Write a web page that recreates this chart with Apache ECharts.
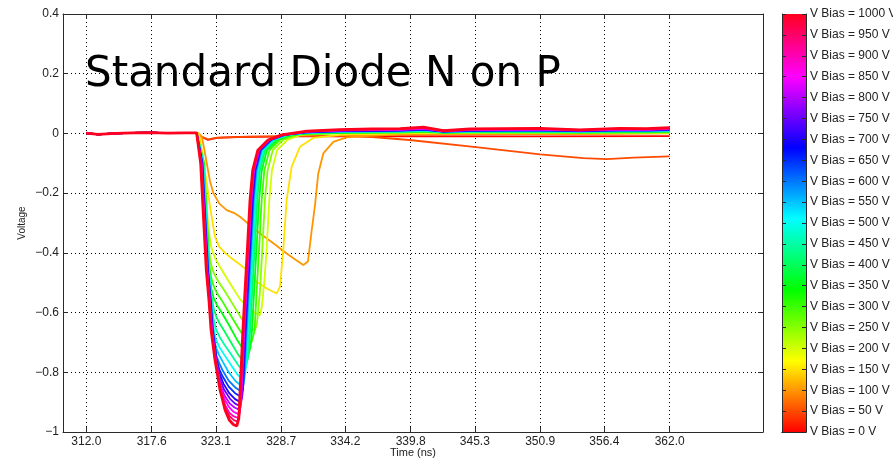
<!DOCTYPE html>
<html>
<head>
<meta charset="utf-8">
<title>Standard Diode N on P</title>
<script src="https://cdn.jsdelivr.net/npm/echarts@6/dist/echarts.min.js"></script>
<style>
  html, body { margin: 0; padding: 0; background: #fff; }
  #chart { width: 893px; height: 459px; }
</style>
</head>
<body>
<div id="chart"></div>
<script>
  // bias voltages (one curve each), tick labels
  var biasVolts = [0, 50, 100, 150, 200, 250, 300, 350, 400, 450, 500, 550, 600, 650, 700, 750, 800, 850, 900, 950, 1000];
  var timeTicks = [312.0, 317.6, 323.1, 328.7, 334.2, 339.8, 345.3, 350.9, 356.4, 362.0];

  // baseline before the trigger, same for every curve
  var preTrigger = [[312, 0.001], [313, -0.003], [314.5, 0.0], [316, 0.002], [317.5, 0.003], [319, 0.001], [320.5, 0.002], [321.45, 0.002]];

  // [time ns, voltage]
  var v0 = [[321.8, -0.01], [322.43, -0.022], [323.2, -0.015], [325, -0.012], [330, -0.010], [340, -0.009], [350, -0.010], [362, -0.009]];
  var v50 = [[321.8, -0.01], [322.43, -0.02], [323.2, -0.014], [326, -0.011], [330, -0.009], [334, -0.008], [336.5, -0.012], [339.7, -0.022],
    [345.2, -0.045], [350.9, -0.07], [354.6, -0.083], [356.6, -0.086], [358.9, -0.081], [362, -0.077]];
  var v100 = [[321.65, 0], [321.89, -0.01], [322.1, -0.05], [322.32, -0.10], [322.6, -0.16], [322.89, -0.20], [323.4, -0.235], [324.03, -0.257],
    [324.74, -0.268], [325.17, -0.279], [326.03, -0.307], [326.89, -0.335], [328.03, -0.368], [329.17, -0.402], [330.0, -0.425], [330.6, -0.441],
    [331.0, -0.428], [331.3, -0.33], [331.6, -0.24], [331.88, -0.134], [332.31, -0.067], [333.17, -0.028], [334.3, -0.013],
    [336.5, -0.007], [338.9, -0.004], [342.6, -0.003], [347.5, -0.002], [350.9, -0.002], [354.3, -0.002], [357.7, -0.001], [362, 0.0]];
  var v150 = [[321.65, 0], [321.85, -0.04], [322.05, -0.10], [322.32, -0.165], [322.6, -0.245], [323.03, -0.346], [323.4, -0.38], [323.89, -0.40],
    [324.5, -0.42], [325.03, -0.435], [325.74, -0.457], [326.6, -0.497], [327.5, -0.52], [328.32, -0.536], [328.6, -0.513], [328.88, -0.39],
    [329.17, -0.223], [329.6, -0.111], [330.31, -0.045], [331.45, -0.015], [333.74, -0.005],
    [336.5, -0.002], [338.9, 0.0], [340.9, 0.002], [342.6, 0.0], [344.9, 0.001], [347.5, 0.001], [350.9, 0.001], [354.3, 0.0], [357.7, 0.001], [360, 0.001], [362, 0.002]];
  var v200 = [[321.62, 0], [322.12, -0.10], [322.32, -0.25], [322.5, -0.33], [322.7, -0.38], [323.0, -0.415], [323.5, -0.45], [324.2, -0.495],
    [325.17, -0.555], [326.0, -0.59], [326.85, -0.61], [327.03, -0.585], [327.25, -0.50], [327.45, -0.39], [327.68, -0.223], [327.91, -0.123],
    [328.35, -0.056], [329.22, -0.022], [330.4, -0.005],
    [330.9, -0.004], [333.7, 0.000], [336.5, 0.001], [338.9, 0.002], [340.9, 0.003], [342.6, 0.001], [344.9, 0.002], [347.5, 0.002], [350.9, 0.002], [354.3, 0.001], [357.7, 0.002], [360, 0.002], [362, 0.003]];
  var v250 = [[321.62, 0], [322.1, -0.10], [322.3, -0.25], [322.5, -0.39], [322.7, -0.44], [322.95, -0.47], [323.3, -0.495], [323.9, -0.53],
    [324.6, -0.575], [325.3, -0.62], [325.9, -0.648], [326.45, -0.66], [326.63, -0.635], [326.88, -0.53], [327.08, -0.39], [327.31, -0.223],
    [327.54, -0.123], [327.98, -0.056], [328.85, -0.022], [330.03, -0.005],
    [330.9, -0.002], [333.7, 0.001], [336.5, 0.002], [338.9, 0.003], [340.9, 0.005], [342.6, 0.002], [344.9, 0.003], [347.5, 0.003], [350.9, 0.003], [354.3, 0.002], [357.7, 0.003], [360, 0.003], [362, 0.004]];
  var v300 = [[321.62, 0], [322.08, -0.10], [322.28, -0.25], [322.5, -0.42], [322.68, -0.48], [322.9, -0.51], [323.2, -0.535], [323.7, -0.565],
    [324.3, -0.605], [325.0, -0.65], [325.6, -0.685], [326.15, -0.70], [326.33, -0.675], [326.42, -0.66], [326.6, -0.53], [326.8, -0.39],
    [327.03, -0.223], [327.26, -0.123], [327.7, -0.056], [328.57, -0.022], [329.75, -0.005],
    [330.9, -0.001], [333.7, 0.002], [336.5, 0.003], [338.9, 0.004], [340.9, 0.006], [342.6, 0.003], [344.9, 0.004], [347.5, 0.004], [350.9, 0.004], [354.3, 0.003], [357.7, 0.004], [360, 0.004], [362, 0.005]];
  var v350 = [[321.62, 0], [322.06, -0.10], [322.26, -0.25], [322.54, -0.457], [322.72, -0.52], [322.9, -0.55], [323.2, -0.575], [323.6, -0.60],
    [324.2, -0.64], [324.9, -0.69], [325.4, -0.72], [325.9, -0.74], [326.08, -0.715], [326.2, -0.66], [326.38, -0.53], [326.58, -0.39],
    [326.81, -0.223], [327.04, -0.123], [327.48, -0.056], [328.35, -0.022], [329.53, -0.005],
    [330.9, 0.000], [333.7, 0.003], [336.5, 0.004], [338.9, 0.005], [340.9, 0.007], [342.6, 0.003], [344.9, 0.005], [347.5, 0.005], [350.9, 0.005], [354.3, 0.004], [357.7, 0.005], [360, 0.005], [362, 0.006]];
  var v400 = [[321.62, 0], [322.04, -0.10], [322.24, -0.25], [322.52, -0.457], [322.72, -0.54], [322.9, -0.585], [323.1, -0.61], [323.4, -0.635],
    [323.8, -0.66], [324.4, -0.70], [325.0, -0.74], [325.7, -0.775], [325.88, -0.75], [326.04, -0.66], [326.22, -0.53], [326.42, -0.39],
    [326.65, -0.223], [326.88, -0.123], [327.32, -0.056], [328.19, -0.022], [329.37, -0.005],
    [330.9, 0.001], [333.7, 0.004], [336.5, 0.005], [338.9, 0.006], [340.9, 0.008], [342.6, 0.004], [344.9, 0.005], [347.5, 0.006], [350.9, 0.006], [354.3, 0.005], [357.7, 0.006], [360, 0.006], [362, 0.007]];
  var v450 = [[321.62, 0], [322.02, -0.10], [322.22, -0.25], [322.5, -0.457], [322.73, -0.558], [322.9, -0.62], [323.1, -0.655], [323.4, -0.68],
    [323.8, -0.705], [324.4, -0.74], [325.0, -0.775], [325.55, -0.80], [325.73, -0.775], [325.92, -0.66], [326.1, -0.53], [326.3, -0.39],
    [326.53, -0.223], [326.76, -0.123], [327.2, -0.056], [328.07, -0.022], [329.25, -0.005],
    [330.9, 0.002], [333.7, 0.005], [336.5, 0.006], [338.9, 0.006], [340.9, 0.009], [342.6, 0.004], [344.9, 0.006], [347.5, 0.007], [350.9, 0.007], [354.3, 0.005], [357.7, 0.007], [360, 0.007], [362, 0.008]];
  var v500 = [[321.62, 0], [322.0, -0.10], [322.2, -0.25], [322.48, -0.457], [322.71, -0.558], [322.9, -0.65], [323.1, -0.69], [323.4, -0.715],
    [323.8, -0.74], [324.3, -0.77], [324.9, -0.805], [325.45, -0.826], [325.63, -0.80], [325.83, -0.66], [326.01, -0.53], [326.21, -0.39],
    [326.44, -0.223], [326.67, -0.123], [327.11, -0.056], [327.98, -0.022], [329.16, -0.005],
    [330.9, 0.003], [333.7, 0.006], [336.5, 0.007], [338.9, 0.007], [340.9, 0.010], [342.6, 0.005], [344.9, 0.007], [347.5, 0.007], [350.9, 0.008], [354.3, 0.006], [357.7, 0.008], [360, 0.008], [362, 0.009]];
  var v550 = [[321.62, 0], [321.98, -0.10], [322.18, -0.25], [322.46, -0.457], [322.69, -0.558], [322.87, -0.658], [323.1, -0.715], [323.35, -0.74],
    [323.7, -0.765], [324.2, -0.80], [324.8, -0.83], [325.37, -0.848], [325.55, -0.823], [325.76, -0.66], [325.94, -0.53], [326.14, -0.39],
    [326.37, -0.223], [326.6, -0.123], [327.04, -0.056], [327.91, -0.022], [329.09, -0.005],
    [330.9, 0.003], [333.7, 0.006], [336.5, 0.007], [338.9, 0.008], [340.9, 0.011], [342.6, 0.005], [344.9, 0.008], [347.5, 0.008], [350.9, 0.009], [354.3, 0.007], [357.7, 0.009], [360, 0.008], [362, 0.010]];
  var v600 = [[321.62, 0], [321.96, -0.10], [322.16, -0.25], [322.44, -0.457], [322.67, -0.558], [322.85, -0.658], [323.15, -0.745], [323.4, -0.77],
    [323.7, -0.795], [324.2, -0.828], [324.8, -0.852], [325.3, -0.865], [325.48, -0.84], [325.7, -0.66], [325.88, -0.53], [326.08, -0.39],
    [326.31, -0.223], [326.54, -0.123], [326.98, -0.056], [327.85, -0.022], [329.03, -0.005],
    [330.9, 0.004], [333.7, 0.007], [336.5, 0.008], [338.9, 0.009], [340.9, 0.012], [342.6, 0.006], [344.9, 0.008], [347.5, 0.009], [350.9, 0.010], [354.3, 0.007], [357.7, 0.010], [360, 0.009], [362, 0.011]];
  var v650 = [[321.62, 0], [321.94, -0.10], [322.14, -0.25], [322.42, -0.457], [322.65, -0.558], [322.83, -0.658], [323.17, -0.759], [323.4, -0.79],
    [323.7, -0.815], [324.2, -0.848], [324.75, -0.87], [325.25, -0.882], [325.43, -0.857], [325.65, -0.66], [325.83, -0.53], [326.03, -0.39],
    [326.26, -0.223], [326.49, -0.123], [326.93, -0.056], [327.8, -0.022], [328.98, -0.005],
    [330.9, 0.004], [333.7, 0.008], [336.5, 0.009], [338.9, 0.010], [340.9, 0.013], [342.6, 0.006], [344.9, 0.009], [347.5, 0.010], [350.9, 0.010], [354.3, 0.008], [357.7, 0.010], [360, 0.010], [362, 0.012]];
  var v700 = [[321.62, 0], [321.92, -0.10], [322.12, -0.25], [322.4, -0.457], [322.63, -0.558], [322.81, -0.658], [323.15, -0.759], [323.42, -0.805],
    [323.75, -0.838], [324.25, -0.87], [324.75, -0.89], [325.2, -0.90], [325.38, -0.875], [325.61, -0.66], [325.79, -0.53], [325.99, -0.39],
    [326.22, -0.223], [326.45, -0.123], [326.89, -0.056], [327.76, -0.022], [328.94, -0.005],
    [330.9, 0.005], [333.7, 0.008], [336.5, 0.009], [338.9, 0.010], [340.9, 0.014], [342.6, 0.007], [344.9, 0.010], [347.5, 0.010], [350.9, 0.011], [354.3, 0.009], [357.7, 0.011], [360, 0.011], [362, 0.013]];
  var v750 = [[321.62, 0], [321.9, -0.10], [322.1, -0.25], [322.38, -0.457], [322.61, -0.558], [322.79, -0.658], [323.13, -0.759], [323.48, -0.825],
    [323.8, -0.858], [324.3, -0.888], [324.75, -0.905], [325.15, -0.913], [325.33, -0.888], [325.57, -0.66], [325.75, -0.53], [325.95, -0.39],
    [326.18, -0.223], [326.41, -0.123], [326.85, -0.056], [327.72, -0.022], [328.9, -0.005],
    [330.9, 0.005], [333.7, 0.009], [336.5, 0.010], [338.9, 0.011], [340.9, 0.015], [342.6, 0.007], [344.9, 0.011], [347.5, 0.011], [350.9, 0.012], [354.3, 0.009], [357.7, 0.012], [360, 0.011], [362, 0.014]];
  var v800 = [[321.62, 0], [321.88, -0.10], [322.08, -0.25], [322.36, -0.457], [322.59, -0.558], [322.77, -0.658], [323.11, -0.759], [323.52, -0.845],
    [323.85, -0.878], [324.3, -0.905], [324.7, -0.918], [325.1, -0.925], [325.28, -0.90], [325.54, -0.66], [325.72, -0.53], [325.92, -0.39],
    [326.15, -0.223], [326.38, -0.123], [326.82, -0.056], [327.69, -0.022], [328.87, -0.005],
    [330.9, 0.006], [333.7, 0.010], [336.5, 0.011], [338.9, 0.012], [340.9, 0.016], [342.6, 0.008], [344.9, 0.011], [347.5, 0.012], [350.9, 0.013], [354.3, 0.010], [357.7, 0.013], [360, 0.012], [362, 0.015]];
  var v850 = [[321.62, 0], [321.86, -0.10], [322.06, -0.25], [322.34, -0.457], [322.57, -0.558], [322.75, -0.658], [323.09, -0.759], [323.52, -0.852],
    [323.85, -0.89], [324.2, -0.915], [324.6, -0.932], [325.05, -0.94], [325.23, -0.915], [325.51, -0.66], [325.69, -0.53], [325.89, -0.39],
    [326.12, -0.223], [326.35, -0.123], [326.79, -0.056], [327.66, -0.022], [328.84, -0.005],
    [330.9, 0.006], [333.7, 0.010], [336.5, 0.012], [338.9, 0.013], [340.9, 0.017], [342.6, 0.008], [344.9, 0.012], [347.5, 0.013], [350.9, 0.014], [354.3, 0.010], [357.7, 0.014], [360, 0.013], [362, 0.016]];
  var v900 = [[321.62, 0], [321.84, -0.10], [322.04, -0.25], [322.32, -0.457], [322.55, -0.558], [322.73, -0.658], [323.07, -0.759], [323.5, -0.855],
    [323.9, -0.91], [324.25, -0.935], [324.6, -0.947], [325.0, -0.953], [325.18, -0.928], [325.48, -0.66], [325.66, -0.53], [325.86, -0.39],
    [326.09, -0.223], [326.32, -0.123], [326.76, -0.056], [327.63, -0.022], [328.81, -0.005],
    [330.9, 0.007], [333.7, 0.011], [336.5, 0.013], [338.9, 0.014], [340.9, 0.018], [342.6, 0.009], [344.9, 0.013], [347.5, 0.014], [350.9, 0.015], [354.3, 0.011], [357.7, 0.015], [360, 0.014], [362, 0.017]];
  var v950 = [[321.62, 0], [321.82, -0.10], [322.02, -0.25], [322.3, -0.457], [322.53, -0.558], [322.71, -0.658], [323.05, -0.759], [323.48, -0.859],
    [323.91, -0.922], [324.3, -0.948], [324.65, -0.96], [324.95, -0.965], [325.13, -0.94], [325.45, -0.66], [325.63, -0.53], [325.83, -0.39],
    [326.06, -0.223], [326.29, -0.123], [326.73, -0.056], [327.6, -0.022], [328.78, -0.005],
    [330.9, 0.007], [333.7, 0.012], [336.5, 0.014], [338.9, 0.015], [340.9, 0.019], [342.6, 0.009], [344.9, 0.014], [347.5, 0.015], [350.9, 0.016], [354.3, 0.012], [357.7, 0.016], [360, 0.015], [362, 0.018]];
  var v1000 = [[321.62, 0], [321.8, -0.10], [322.0, -0.25], [322.28, -0.457], [322.51, -0.558], [322.69, -0.658], [323.03, -0.759], [323.46, -0.859],
    [323.89, -0.926], [324.25, -0.96], [324.6, -0.975], [324.89, -0.98], [325.07, -0.955], [325.42, -0.66], [325.6, -0.53], [325.8, -0.39],
    [326.03, -0.223], [326.26, -0.123], [326.7, -0.056], [327.57, -0.022], [328.75, -0.005],
    [330.9, 0.008], [333.7, 0.013], [336.5, 0.015], [338.9, 0.016], [340.9, 0.021], [342.6, 0.009], [344.9, 0.015], [347.5, 0.016], [350.9, 0.017], [354.3, 0.012], [357.7, 0.017], [360, 0.016], [362, 0.019]];

  var curves = [v0, v50, v100, v150, v200, v250, v300, v350, v400, v450, v500,
    v550, v600, v650, v700, v750, v800, v850, v900, v950, v1000];

  /*hsv colour for a bias, like the matlab colormap*/
  function biasColor(volts) {
    var h = (volts * 0.353) % 360;
    var x = 1 - Math.abs((h / 60) % 2 - 1);
    var r = 0, g = 0, b = 0;
    if (h < 60) { r = 1; g = x; }
    else if (h < 120) { r = x; g = 1; }
    else if (h < 180) { g = 1; b = x; }
    else if (h < 240) { g = x; b = 1; }
    else if (h < 300) { r = x; b = 1; }
    else { r = 1; b = x; }
    return 'rgb(' + Math.round(r * 255) + ',' + Math.round(g * 255) + ',' + Math.round(b * 255) + ')';
  }

  var axisColor = '#2a2a2a';
  var labelFont = 'Liberation Sans, Arial, sans-serif';

  var series = curves.map(function (pts, i) {
    var volts = biasVolts[i];
    return {
      name: 'V Bias = ' + volts + ' V',
      type: 'line',
      xAxisIndex: 0,
      yAxisIndex: 0,
      symbol: 'none',
      data: preTrigger.concat(pts),
      lineStyle: {color: biasColor(volts), width: volts === 1000 ? 2.8 : 1.8},
      itemStyle: {color: biasColor(volts)},
      animation: false
    };
  });

  // colour bar drawn as one bar through the bias axis
  var barStops = [0, 170, 340, 510, 680, 850, 1000].map(function (v) {
    return {offset: v / 1000, color: biasColor(v)};
  });
  series.push({
    type: 'bar',
    xAxisIndex: 2,
    yAxisIndex: 2,
    barWidth: '100%',
    data: [biasVolts[biasVolts.length - 1]],
    itemStyle: {color: {type: 'linear', x: 0, y: 1, x2: 0, y2: 0, colorStops: barStops}},
    animation: false,
    silent: true
  });

  var gridLine = {show: true, lineStyle: {color: '#000', width: 1, type: [1, 3]}};

  var myChart = echarts.init(document.getElementById('chart'));
  myChart.setOption({
    backgroundColor: '#fff',
    animation: false,
    title: {
      text: 'Standard Diode N on P',
      left: 85,
      top: 54,
      padding: 0,
      textStyle: {fontFamily: 'DejaVu Sans', fontSize: 42, fontWeight: 'normal', color: '#000'}
    },
    grid: [
      {left: 63, top: 14, width: 700, height: 418, outerBoundsMode: 'none', containLabel: false},
      {left: 782, top: 14, width: 24, height: 418, outerBoundsMode: 'none', containLabel: false}
    ],
    xAxis: [
      {
        gridIndex: 0, type: 'value', min: 310, max: 370, position: 'bottom',
        name: 'Time (ns)', nameLocation: 'middle', nameGap: 15, nameMoveOverlap: false,
        nameTextStyle: {fontFamily: labelFont, fontSize: 11, color: '#222'},
        axisLine: {show: true, onZero: false, lineStyle: {color: axisColor, width: 1}},
        axisTick: {show: true, inside: true, length: 5, customValues: timeTicks, lineStyle: {color: axisColor}},
        axisLabel: {
          customValues: timeTicks, margin: 4, fontFamily: labelFont, fontSize: 12, color: '#222',
          formatter: function (v) { return v.toFixed(1); }
        },
        splitLine: gridLine
      },
      {
        gridIndex: 0, type: 'value', min: 310, max: 370, position: 'top',
        axisLine: {show: true, onZero: false, lineStyle: {color: axisColor, width: 1}},
        axisTick: {show: true, inside: true, length: 5, customValues: timeTicks, lineStyle: {color: axisColor}},
        axisLabel: {show: false},
        splitLine: {show: false}
      },
      {
        gridIndex: 1, type: 'category', data: [''], position: 'bottom',
        axisLine: {show: true, lineStyle: {color: axisColor, width: 1}},
        axisTick: {show: false}, axisLabel: {show: false}, z: 5
      },
      {
        gridIndex: 1, type: 'category', data: [''], position: 'top',
        axisLine: {show: true, lineStyle: {color: axisColor, width: 1}},
        axisTick: {show: false}, axisLabel: {show: false}, z: 5
      }
    ],
    yAxis: [
      {
        gridIndex: 0, type: 'value', min: -1, max: 0.4, interval: 0.2, position: 'left',
        name: 'Voltage', nameLocation: 'middle', nameGap: 36, nameMoveOverlap: false,
        nameTextStyle: {fontFamily: labelFont, fontSize: 10, color: '#222'},
        axisLine: {show: true, onZero: false, lineStyle: {color: axisColor, width: 1}},
        axisTick: {show: true, inside: true, length: 5, lineStyle: {color: axisColor}},
        axisLabel: {
          margin: 4, fontFamily: labelFont, fontSize: 12, color: '#222',
          formatter: function (v) {
            var r = Math.round(v * 10) / 10;
            return (r < 0 ? '\u2212' : '') + Math.abs(r);
          }
        },
        splitLine: gridLine
      },
      {
        gridIndex: 0, type: 'value', min: -1, max: 0.4, interval: 0.2, position: 'right',
        axisLine: {show: true, onZero: false, lineStyle: {color: axisColor, width: 1}},
        axisTick: {show: true, inside: true, length: 5, lineStyle: {color: axisColor}},
        axisLabel: {show: false},
        splitLine: {show: false}
      },
      {
        gridIndex: 1, type: 'value', min: 0, max: 1000, interval: 50, position: 'right', z: 5,
        axisLine: {show: true, lineStyle: {color: axisColor, width: 1}},
        axisTick: {show: true, inside: true, length: 4, lineStyle: {color: axisColor}},
        axisLabel: {
          margin: 4, fontFamily: labelFont, fontSize: 12, color: '#222',
          formatter: function (v) { return 'V Bias = ' + Math.round(v) + ' V'; }
        },
        splitLine: {show: false}
      },
      {
        gridIndex: 1, type: 'value', min: 0, max: 1000, interval: 50, position: 'left', z: 5,
        axisLine: {show: true, lineStyle: {color: axisColor, width: 1}},
        axisTick: {show: true, inside: true, length: 4, lineStyle: {color: axisColor}},
        axisLabel: {show: false},
        splitLine: {show: false}
      }
    ],
    series: series
  });
</script>
</body>
</html>
